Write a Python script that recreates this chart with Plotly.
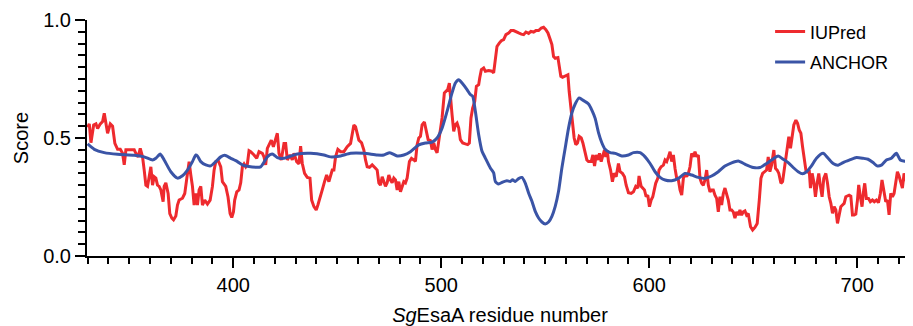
import plotly.graph_objects as go

# IUPred score (residue number, score)
iupred_res = [330, 330.8, 331.6, 332.9, 334, 334.8, 336.1, 337.2, 338, 338.8, 339.6, 340.9, 342, 343.1, 344.4,
    345.7, 346.8, 347.6, 348.4, 350, 352.4, 353.2, 354.3, 355.3, 356.4, 357.2, 358, 358.8, 359.6, 360.4,
    361.2, 362, 362.8, 363.6, 364.4, 365.2, 366.3, 366.8, 367.6, 368.7, 369.5, 370.5, 371.3, 372.4, 373.2,
    374, 375.6, 376.7, 377.7, 378.8, 379.6, 380.4, 381.2, 382, 382.8, 383.6, 384.4, 385.2, 386.3, 387.6,
    388.9, 390, 390.8, 391.6, 392.7, 394, 394.8, 396.4, 397.5, 398.5, 399.3, 400.1, 400.7, 401.7, 402.8,
    403.6, 404.4, 405.2, 406, 406.8, 407.6,
    408.4, 410, 411.3, 412.4, 414, 414.8, 415.6, 416.4, 417.7, 418.3, 419.3, 420.4, 421.2, 422, 423.1,
    424.4, 425.2, 426, 427.3, 428.4, 429.2, 430.5, 431.6, 432.4, 433.2, 434.3, 435.6, 436.9, 437.7, 438.8,
    439.9, 440.7, 441.7, 442.8, 443.9, 444.9, 446, 446.8, 447.6, 448.4, 449.2, 450.3, 451.6, 453.2, 454.8,
    456.4, 457.2, 458, 458.8, 459.6, 460.4, 461.7, 462.8, 463.6, 464.4, 465.5, 466.8, 468.4, 469.2, 470,
    470.8, 471.6, 472.4, 473.2, 474, 474.8, 475.6, 476.4, 477.2, 478, 478.8, 479.6, 480.4, 481.2, 482,
    482.8, 483.6, 484.7, 485.7, 486.8,
    487.6, 488.4, 489.2, 490, 490.8, 491.9, 492.7, 493.7, 494.8, 495.6, 496.4, 497.2, 498, 498.8, 499.6,
    500.4, 501.5, 502.5, 503.1, 503.9, 504.6, 505.2, 506, 506.8, 507.6, 508.4, 509.2, 510.3, 511.6, 512.7,
    513.5, 514.3, 515.1, 516.1, 516.9, 518, 518.5, 519.3, 520.4, 521.2, 522.8, 524.4, 525.2, 526, 526.8,
    527.9, 528.9, 530, 531.1, 532.4, 533.5, 534.8, 535.9, 537.2, 538.5, 539.6, 540.7, 542, 543.1, 544.4,
    545.5, 546.8, 548.1, 549.2, 550.3, 551.3, 552.4, 553.2, 554, 554.8, 556.1, 556.7, 557.5, 558.3, 559.6,
    560.9, 561.5, 562.3, 563.1, 563.9, 564.7, 565.5, 566.3, 567.3, 568.1,
    570, 570.8, 572.1, 572.9, 573.7, 574.5, 575.3, 576.1, 576.9, 577.5, 578.5, 579.1, 579.8, 580.4, 581.4,
    582.3, 583.1, 584.1, 585.2, 586, 587.1, 588.1, 588.9, 590, 591.3, 592.4, 593.5, 594.5, 595.1, 596.1,
    596.9, 597.7, 598.5, 599.3, 600.1, 600.9, 601.7, 602.5, 603.1, 604.1, 604.7, 605.7, 606.8, 607.6, 608.4,
    609.2, 610, 610.8, 611.6, 612.4, 613.2, 614, 614.8, 615.6, 616.4, 617.2, 618, 618.8, 619.6, 620.4,
    621.2, 622, 622.8, 623.6, 624.4, 625.2, 626, 626.8, 627.6, 628.4, 629.2, 630, 630.8, 631.6, 632.4,
    633.2, 634, 634.8, 635.6, 636.4, 637.2, 638, 638.8, 639.6, 640.4, 641.2, 642, 642.8, 643.6, 644.4,
    645.2, 646, 646.8, 647.6,
    648.7, 649.7, 650.8, 651.9, 652.9, 653.7, 654.5, 655.6, 656.4, 657.2, 658, 658.8, 659.9, 660.7, 661.5,
    662.3, 663.3, 664.1, 664.9, 665.7, 666.3, 667.1, 667.9, 668.7, 669.5, 670.5, 671.3, 672.1, 672.9, 673.7,
    674.5, 675.3, 676.1, 676.9, 677.5, 678.3, 679.1, 679.9, 680.7, 681.5, 682.3, 683.1, 683.9, 684.9, 685.7,
    686.5, 687.3, 688.1, 688.9, 689.7, 690.5, 691.3, 692.1, 692.9, 693.7, 694.5, 695.3, 696.1, 696.9, 697.7,
    698.5, 699.3, 700.1, 700.7, 701.5, 702.3, 703.1, 703.6, 704.4, 705.4, 706.3, 707.3, 708.2, 709.2, 710.2,
    711.1, 711.9, 712.7, 713.7, 714.5, 715.3, 716.1, 716.9, 717.7, 718.5, 719.3, 720.1, 720.9, 721.7, 722.5,
    723.3, 724.1, 724.9, 725.7, 726.5]
iupred_val = [0.545, 0.56, 0.48, 0.555, 0.56, 0.54, 0.56, 0.57, 0.605, 0.57, 0.52, 0.56, 0.55, 0.477, 0.452,
    0.452, 0.435, 0.386, 0.45, 0.45, 0.45, 0.435, 0.42, 0.456, 0.42, 0.364, 0.30, 0.295, 0.336, 0.378,
    0.30, 0.336, 0.33, 0.30, 0.295, 0.28, 0.23, 0.295, 0.31, 0.265, 0.18, 0.16, 0.153, 0.17, 0.216,
    0.237, 0.245, 0.265, 0.33, 0.40, 0.343, 0.295, 0.216, 0.265, 0.216, 0.28, 0.295, 0.216, 0.237, 0.22,
    0.237, 0.295, 0.364, 0.40, 0.406, 0.378, 0.315, 0.295, 0.25, 0.18, 0.163, 0.187, 0.237, 0.272, 0.28,
    0.31, 0.378, 0.39, 0.378, 0.39, 0.446,
    0.442, 0.428, 0.414, 0.442, 0.435, 0.42, 0.386, 0.456, 0.477, 0.491, 0.463, 0.491, 0.52, 0.435, 0.407,
    0.477, 0.477, 0.407, 0.428, 0.407, 0.435, 0.40, 0.39, 0.466, 0.392, 0.35, 0.333, 0.33, 0.237, 0.209,
    0.195, 0.216, 0.251, 0.28, 0.315, 0.343, 0.315, 0.336, 0.364, 0.364, 0.42, 0.452, 0.442, 0.442, 0.463,
    0.477, 0.52, 0.555, 0.548, 0.52, 0.491, 0.48, 0.449, 0.407, 0.378, 0.376, 0.386, 0.372, 0.364, 0.31,
    0.30, 0.336, 0.315, 0.295, 0.31, 0.343, 0.322, 0.31, 0.33, 0.322, 0.28, 0.315, 0.272, 0.295, 0.315,
    0.31, 0.33, 0.40, 0.414, 0.407,
    0.401, 0.471, 0.50, 0.507, 0.556, 0.568, 0.528, 0.493, 0.489, 0.451, 0.479, 0.451, 0.437, 0.486, 0.528,
    0.585, 0.691, 0.698, 0.705, 0.733, 0.641, 0.599, 0.528, 0.556, 0.563, 0.542, 0.493, 0.479, 0.475, 0.472,
    0.479, 0.585, 0.627, 0.655, 0.719, 0.726, 0.754, 0.79, 0.797, 0.783, 0.786, 0.783, 0.776, 0.845, 0.888,
    0.902, 0.912, 0.917, 0.938, 0.945, 0.955, 0.955, 0.949, 0.945, 0.94, 0.938, 0.949, 0.943, 0.952, 0.949,
    0.955, 0.955, 0.966, 0.969, 0.959, 0.945, 0.917, 0.896, 0.845, 0.838, 0.841, 0.81, 0.761, 0.757, 0.761,
    0.768, 0.698, 0.62, 0.556, 0.50, 0.472, 0.479, 0.507, 0.50, 0.479,
    0.407, 0.40, 0.40, 0.428, 0.381, 0.428, 0.407, 0.435, 0.40, 0.42, 0.449, 0.42, 0.449, 0.40, 0.364,
    0.315, 0.35, 0.336, 0.392, 0.357, 0.35, 0.336, 0.30, 0.268, 0.265, 0.272, 0.295, 0.288, 0.339, 0.295,
    0.288, 0.28, 0.251, 0.258, 0.209, 0.237, 0.251, 0.28, 0.308, 0.329, 0.364, 0.378, 0.385, 0.407, 0.40,
    0.42, 0.442, 0.40, 0.428, 0.371, 0.329, 0.322, 0.28, 0.258, 0.329, 0.35, 0.336, 0.35, 0.378, 0.435,
    0.42, 0.442, 0.42, 0.428, 0.329, 0.308, 0.30, 0.322, 0.364, 0.30, 0.272, 0.28, 0.28, 0.258, 0.244,
    0.187, 0.251, 0.216, 0.265, 0.288, 0.265, 0.237, 0.195, 0.195, 0.187, 0.16, 0.187, 0.173, 0.195, 0.173,
    0.187, 0.191, 0.173, 0.18,
    0.124, 0.11, 0.121, 0.138, 0.237, 0.329, 0.35, 0.357, 0.364, 0.42, 0.357, 0.385, 0.449, 0.371, 0.364,
    0.35, 0.308, 0.315, 0.364, 0.42, 0.463, 0.505, 0.456, 0.505, 0.555, 0.576, 0.562, 0.534, 0.52, 0.463,
    0.407, 0.364, 0.357, 0.364, 0.288, 0.35, 0.315, 0.251, 0.308, 0.35, 0.295, 0.251, 0.329, 0.35, 0.308,
    0.251, 0.223, 0.181, 0.209, 0.195, 0.138, 0.167, 0.209, 0.216, 0.223, 0.251, 0.254, 0.258, 0.254, 0.174,
    0.174, 0.178, 0.237, 0.301, 0.251, 0.209, 0.28, 0.308, 0.244, 0.244, 0.23, 0.237, 0.23, 0.237, 0.226,
    0.265, 0.322, 0.28, 0.23, 0.237, 0.174, 0.265, 0.251, 0.265, 0.315, 0.357, 0.339, 0.315, 0.288, 0.35,
    0.329, 0.308, 0.28, 0.202, 0.295]

# ANCHOR score (residue number, score)
anchor_res = [330, 333.2, 338, 344.4, 352.4, 357.2, 361.2, 362.8, 364.9, 366.8, 370, 373.2, 375.6, 378, 380.4,
    382, 382.8, 384.4, 386.8, 389.2, 391.6, 394, 395.9, 398.8, 402, 404.4, 406.8,
    413.2, 416.4, 418.8, 421.2, 424.4, 430.8, 437.2, 443.6, 446.8, 451.6, 456.4, 462.8, 469.2, 472.4, 475.3,
    478.8, 482, 485.2,
    489.2, 492.4, 495.6, 498, 500.4, 502.8, 505.2, 506.8, 508.4, 510, 512.4, 514, 515.1, 516.4, 518,
    519.6, 521.2, 523.6, 525.2, 526, 527.6, 529.5, 531.6, 533.2, 534.3, 535.6, 537.2, 538.8, 540.4, 542,
    543.6, 545.2, 546.8, 548.4, 550, 551.6, 553.2, 554.8, 556.4, 558, 559.6, 561.2, 562.8, 564.4, 566.3, 567.6,
    570.8, 572.4, 574, 575.6, 577.2, 578.8, 581.2, 583.6, 586.8, 590, 592.4, 595.6, 598, 600.4, 602.8,
    605.2, 607.6, 610.8, 614, 617.2, 620.4, 623.6, 626.8, 630, 633.2, 636.4, 639.6, 642.8, 646,
    650, 653.2, 656.4, 658.8, 662, 664.4, 666.8, 669.2, 671.6, 673.7, 675.6, 678, 680.4, 683.6, 686,
    688.4, 690.8, 693.2, 696.4, 699.6, 702.8, 705.2, 707.6, 709.5, 711.6, 714, 716.4, 718.8, 720.7, 723.6, 726.8]
anchor_val = [0.475, 0.452, 0.438, 0.431, 0.427, 0.42, 0.407, 0.414, 0.432, 0.407, 0.357, 0.33, 0.34, 0.364, 0.40,
    0.428, 0.424, 0.40, 0.386, 0.382, 0.40, 0.42, 0.427, 0.414, 0.40, 0.386, 0.38,
    0.378, 0.42, 0.432, 0.417, 0.414, 0.432, 0.435, 0.428, 0.42, 0.424, 0.435, 0.435, 0.428, 0.428, 0.438,
    0.424, 0.428, 0.442,
    0.471, 0.479, 0.483, 0.50, 0.542, 0.613, 0.691, 0.733, 0.747, 0.733, 0.705, 0.684, 0.677, 0.613, 0.514,
    0.444, 0.415, 0.373, 0.352, 0.316, 0.305, 0.313, 0.319, 0.316, 0.323, 0.316, 0.328, 0.333, 0.309, 0.267,
    0.232, 0.189, 0.161, 0.144, 0.136, 0.144, 0.168, 0.21, 0.274, 0.373, 0.458, 0.542, 0.606, 0.644, 0.67, 0.663,
    0.644, 0.618, 0.583, 0.523, 0.48, 0.452, 0.438, 0.435, 0.424, 0.428, 0.438, 0.438, 0.42, 0.392, 0.357,
    0.333, 0.322, 0.319, 0.329, 0.35, 0.343, 0.333, 0.329, 0.339, 0.357, 0.381, 0.395, 0.403, 0.389,
    0.375, 0.375, 0.392, 0.407, 0.424, 0.41, 0.396, 0.375, 0.357, 0.348, 0.357, 0.382, 0.414, 0.435, 0.414,
    0.392, 0.385, 0.396, 0.407, 0.417, 0.414, 0.41, 0.396, 0.382, 0.385, 0.407, 0.414, 0.435, 0.407, 0.40, 0.392]

x_range = [329.7, 726.8]
y_range = [0, 1]
x_tick_vals = [400, 500, 600, 700]
y_tick_vals = [0.0, 0.5, 1.0]

RED = "#EE2A2E"
BLUE = "#3A54A6"
FONT = "Liberation Sans, Arial, sans-serif"

fig = go.Figure()
fig.add_trace(go.Scatter(x=iupred_res, y=iupred_val, mode="lines", name="IUPred",
                         legendgroup="a", line=dict(color=RED, width=3)))
fig.add_trace(go.Scatter(x=anchor_res, y=anchor_val, mode="lines", name="ANCHOR",
                         legendgroup="b", line=dict(color=BLUE, width=3, shape="spline", smoothing=0.6)))

# the page body adds an 8px offset, so the figure is sized to fill the 913x326 window
fig.update_layout(
    width=905, height=318,
    margin=dict(l=79, r=0, t=12, b=70, autoexpand=False),
    paper_bgcolor="white", plot_bgcolor="white",
    font=dict(family=FONT, size=18, color="black"),
    showlegend=True,
    legend=dict(x=0.827, y=1.028, xanchor="left", yanchor="top", bgcolor="rgba(0,0,0,0)",
                tracegroupgap=4, font=dict(size=18)),
    xaxis=dict(range=x_range, showgrid=False, zeroline=False, automargin=False,
               showline=True, linecolor="black", linewidth=2,
               tickmode="array", tickvals=x_tick_vals, ticks="outside", ticklen=10, tickwidth=2,
               tickcolor="black", tickfont=dict(size=20),
               minor=dict(dtick=10, tick0=0, ticks="outside", ticklen=6, tickwidth=1.5, tickcolor="black"),
               title=dict(text="<i>Sg</i>EsaA residue number", standoff=13, font=dict(size=20))),
    yaxis=dict(range=y_range, showgrid=False, zeroline=False, automargin=False,
               showline=True, linecolor="black", linewidth=2,
               tickmode="array", tickvals=y_tick_vals, tickformat=".1f", ticks="outside", ticklen=10,
               tickwidth=2, tickcolor="black", tickfont=dict(size=20),
               minor=dict(dtick=0.05, tick0=0, ticks="outside", ticklen=7, tickwidth=1.5, tickcolor="black"),
               title=dict(text="Score", standoff=9, font=dict(size=20))),
)

fig.write_html("out.html")
